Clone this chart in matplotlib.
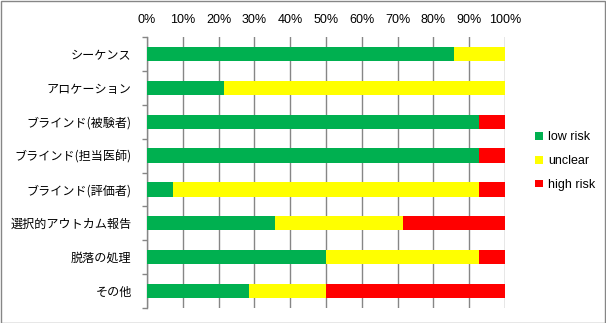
import matplotlib

matplotlib.use("Agg")
import matplotlib.pyplot as plt
import numpy as np
from matplotlib.patches import Rectangle
from matplotlib.ticker import MultipleLocator, PercentFormatter

plt.rcParams.update({"font.family": ["Liberation Sans", "DejaVu Sans"], "font.size": 9})

# risk-of-bias domains, share of studies per judgement (n = 14)
domains = ["シーケンス", "アロケーション", "ブラインド(被験者)", "ブラインド(担当医師)",
           "ブラインド(評価者)", "選択的アウトカム報告", "脱落の処理", "その他"]
low_risk = [12 / 14, 3 / 14, 13 / 14, 13 / 14, 1 / 14, 5 / 14, 7 / 14, 4 / 14]
unclear = [2 / 14, 11 / 14, 0, 0, 12 / 14, 5 / 14, 6 / 14, 3 / 14]
high_risk = [0, 0, 1 / 14, 1 / 14, 1 / 14, 4 / 14, 1 / 14, 7 / 14]

series = [("low risk", low_risk, "#00B050"),
          ("unclear", unclear, "#FFFF00"),
          ("high risk", high_risk, "#FF0000")]

GRID = "#868686"

fig = plt.figure(figsize=(6.06, 3.23), dpi=100)
ax = fig.add_axes([147 / 606, 15 / 323, 358 / 606, 271 / 323])

y = np.arange(len(domains))
left = np.zeros(len(domains))
for name, vals, color in series:
    vals = np.array(vals)
    ax.barh(y, vals, left=left, height=0.42, color=color, label=name, zorder=3)
    left += vals

ax.set_xlim(0, 1)
ax.set_ylim(len(domains) - 0.5, -0.5)

ax.xaxis.set_major_locator(MultipleLocator(0.1))
ax.xaxis.set_major_formatter(PercentFormatter(1.0, decimals=0))
ax.xaxis.tick_top()
ax.tick_params(axis="x", length=0, pad=8, labelsize=9)
ax.grid(axis="x", color=GRID, linewidth=1.0, zorder=0)

ax.set_yticks(y)
ax.set_yticklabels(domains, family=["Noto Sans CJK JP", "DejaVu Sans"], fontsize=8.7)
ax.set_yticks(np.arange(len(domains) + 1) - 0.5, minor=True)
ax.tick_params(axis="y", which="major", length=0, pad=11)
ax.tick_params(axis="y", which="minor", length=3.5, width=1, color=GRID, direction="out")

for side in ("top", "right", "bottom"):
    ax.spines[side].set_visible(False)
ax.spines["left"].set_color(GRID)
ax.spines["left"].set_linewidth(1.0)

fig.legend(loc="center left", bbox_to_anchor=(524 / 606, 1 - 161 / 323), frameon=False,
           handlelength=0.6, handleheight=0.6, handletextpad=0.45, labelspacing=0.95,
           fontsize=9)

# outer chart frame
fig.patches.append(Rectangle((0.5 / 606, 0.5 / 323), 604.5 / 606, 321.5 / 323,
                             transform=fig.transFigure, fill=False, edgecolor=GRID,
                             linewidth=1.0))

fig.savefig("out.png", dpi=100)
